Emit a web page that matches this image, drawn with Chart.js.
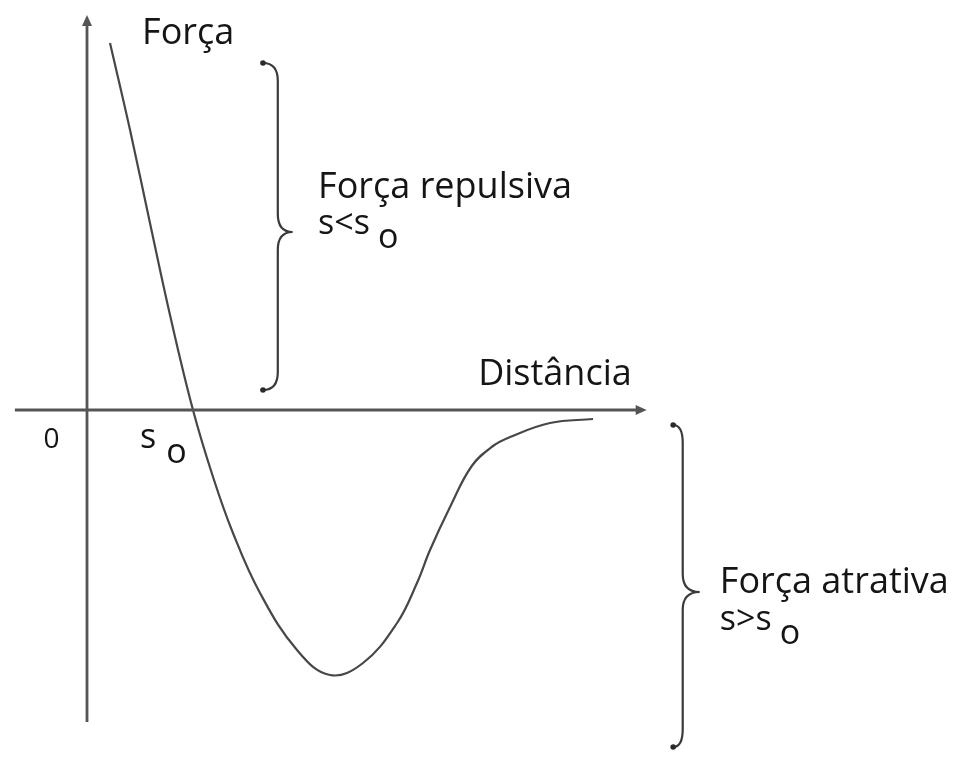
<!DOCTYPE html>
<html>
<head>
<meta charset="utf-8">
<script src="https://cdn.jsdelivr.net/npm/chart.js@4.4.1/dist/chart.umd.min.js"></script>
<style>
  html, body { margin: 0; padding: 0; background: #fff; }
  #wrap { width: 969px; height: 758px; position: relative; }
</style>
</head>
<body>
<div id="wrap"><canvas id="forca-chart"></canvas></div>
<script>
// distance (s0 = 1) and force values along the curve
const distancia = [0.217, 0.406, 0.594, 0.783, 1.0, 1.189, 1.377, 1.632, 1.981, 2.292, 2.604, 2.925, 3.113, 3.236, 3.425, 3.630, 3.830, 3.991, 4.368, 4.774]
const forca = [3.67, 2.80, 1.87, 0.95, 0, -0.67, -1.23, -1.83, -2.40, -2.65, -2.53, -2.13, -1.73, -1.40, -0.97, -0.56, -0.36, -0.27, -0.13, -0.09]

// axis extents (data units)
const eixoX = [-0.68, 5.28]
const eixoY = [-3.12, 3.95]

const pontos = distancia.map((d, i) => ({ x: d, y: forca[i] }))

const corTexto = '#151515'
const corEixo = '#555555'
const fonte = '"Open Sans", sans-serif'

// axes, arrows, braces and labels drawn on top of the scales
const desenho = {
  id: 'desenho',
  afterDatasetsDraw(chart, args, opts) {
    const ctx = chart.ctx
    const sx = chart.scales.x
    const sy = chart.scales.y
    const px = v => sx.getPixelForValue(v)
    const py = v => sy.getPixelForValue(v)

    ctx.save()
    ctx.strokeStyle = corEixo
    ctx.fillStyle = corEixo
    ctx.lineWidth = 2.8

    // horizontal axis
    ctx.beginPath()
    ctx.moveTo(px(eixoX[0]), py(0))
    ctx.lineTo(px(eixoX[1]) - 6, py(0))
    ctx.stroke()
    ctx.beginPath()
    ctx.moveTo(px(eixoX[1]), py(0))
    ctx.lineTo(px(eixoX[1]) - 11, py(0) - 5)
    ctx.lineTo(px(eixoX[1]) - 11, py(0) + 5)
    ctx.closePath()
    ctx.fill()

    // vertical axis
    ctx.beginPath()
    ctx.moveTo(px(0), py(eixoY[0]))
    ctx.lineTo(px(0), py(eixoY[1]) + 6)
    ctx.stroke()
    ctx.beginPath()
    ctx.moveTo(px(0), py(eixoY[1]))
    ctx.lineTo(px(0) - 5, py(eixoY[1]) + 11)
    ctx.lineTo(px(0) + 5, py(eixoY[1]) + 11)
    ctx.closePath()
    ctx.fill()

    // curly braces
    ctx.strokeStyle = '#3a3a3a'
    ctx.fillStyle = '#2a2a2a'
    ctx.lineWidth = 2.2
    opts.chaves.forEach(c => {
      const x0 = px(c.ponta0), xs = px(c.eixo), xt = px(c.bico)
      const yt = py(c.topo), yb = py(c.base), ym = py(c.meio)
      const r = 18
      ctx.beginPath()
      ctx.moveTo(x0, yt)
      ctx.quadraticCurveTo(xs, yt, xs, yt + r)
      ctx.lineTo(xs, ym - r)
      ctx.quadraticCurveTo(xs, ym, xt, ym)
      ctx.quadraticCurveTo(xs, ym, xs, ym + r)
      ctx.lineTo(xs, yb - r)
      ctx.quadraticCurveTo(xs, yb, x0, yb)
      ctx.stroke()
      ;[yt, yb].forEach(y => {
        ctx.beginPath()
        ctx.arc(x0, y, 2.8, 0, Math.PI * 2)
        ctx.fill()
      })
    })

    // labels
    ctx.fillStyle = corTexto
    ctx.textBaseline = 'alphabetic'
    ctx.textAlign = 'left'
    opts.textos.forEach(t => {
      ctx.font = `${t.tamanho}px ${fonte}`
      ctx.fillText(t.texto, px(t.x), py(t.y))
      if (t.indice) {
        const w = ctx.measureText(t.texto).width
        ctx.fillText(t.indice, px(t.x) + w + t.vao, py(t.y) + t.desce)
      }
    })
    ctx.restore()
  }
}

new Chart(document.getElementById('forca-chart'), {
  type: 'scatter',
  data: {
    datasets: [{
      data: pontos,
      showLine: true,
      borderColor: '#474747',
      borderWidth: 2.2,
      pointRadius: 0,
      tension: 0.4,
      fill: false
    }]
  },
  options: {
    responsive: true,
    maintainAspectRatio: false,
    animation: false,
    events: [],
    layout: { padding: 0 },
    plugins: {
      legend: { display: false },
      tooltip: { enabled: false },
      desenho: {
        chaves: [
          { ponta0: 1.66, eixo: 1.80, bico: 1.94, topo: 3.47, base: 0.20, meio: 1.78 },
          { ponta0: 5.53, eixo: 5.62, bico: 5.78, topo: -0.15, base: -3.37, meio: -1.82 }
        ],
        textos: [
          { texto: 'Força', x: 0.52, y: 3.66, tamanho: 36 },
          { texto: 'Força repulsiva', x: 2.18, y: 2.12, tamanho: 36 },
          { texto: 's<s', x: 2.18, y: 1.76, tamanho: 34, indice: 'o', vao: 8, desce: 14 },
          { texto: 'Distância', x: 3.69, y: 0.25, tamanho: 36 },
          { texto: 'Força atrativa', x: 5.97, y: -1.83, tamanho: 36 },
          { texto: 's>s', x: 5.97, y: -2.20, tamanho: 34, indice: 'o', vao: 8, desce: 14 },
          { texto: '0', x: -0.41, y: -0.38, tamanho: 28 },
          { texto: 's', x: 0.5, y: -0.38, tamanho: 34, indice: 'o', vao: 10, desce: 15 }
        ]
      }
    },
    scales: {
      x: { type: 'linear', display: false, min: -0.8208, max: 8.3208 },
      y: { type: 'linear', display: false, min: -3.48, max: 4.10 }
    }
  },
  plugins: [desenho]
});
</script>
</body>
</html>
